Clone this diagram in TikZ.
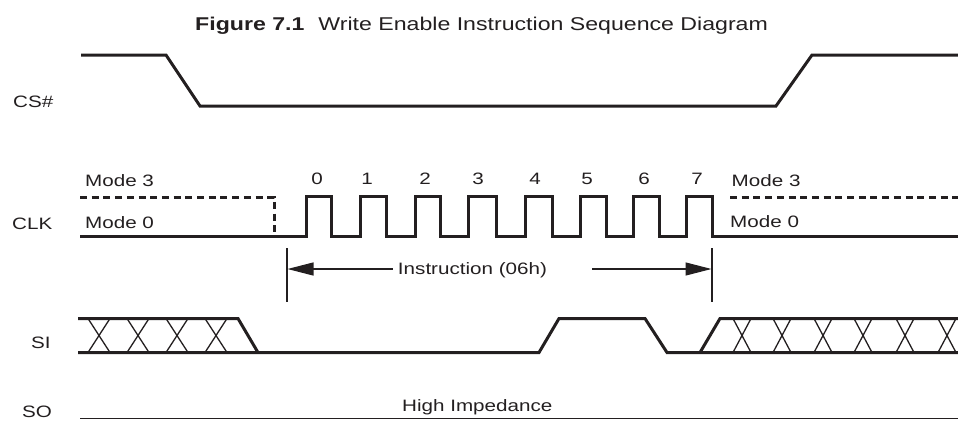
\documentclass[tikz,border=0pt]{standalone}
\usepackage{fontspec}
\setmainfont{Liberation Sans}[FakeStretch=1.25]
\usetikzlibrary{arrows.meta}
\definecolor{ink}{RGB}{35,31,32}
\begin{document}
\begin{tikzpicture}[x=1pt,y=-1pt,
  sig/.style={line width=3pt,line join=miter,draw=ink},
  dsig/.style={line width=3pt,draw=ink,dash pattern=on 7pt off 4.7pt},
  thin/.style={line width=1.3pt,draw=ink},
  hair/.style={line width=1.2pt,draw=ink},
  arr/.style={hair,-{Triangle[length=26pt,width=13pt]}},
  lbl/.style={inner sep=0pt,text=ink,font=\fontsize{16.5}{19}\selectfont},
  ttl/.style={inner sep=0pt,text=ink,font=\fontsize{18.5}{22}\selectfont}]
\useasboundingbox (0,0) rectangle (958,421);
% title
\node[ttl,anchor=base west] (title) at (195,30) {\textbf{Figure 7.1}\hspace{14pt}Write Enable Instruction Sequence Diagram};
% signal labels
\node[lbl,anchor=base west] (cs) at (13,107) {CS\#};
\node[lbl,anchor=base west] (clk) at (12,229) {CLK};
\node[lbl,anchor=base west] (si) at (31,348) {SI};
\node[lbl,anchor=base west] (so) at (22,417.5) {SO};
% CS#
\draw[sig] (81,55) -- (166,55) -- (200,106) -- (776,106) -- (812,55) -- (958,55);
% CLK
\node[lbl,anchor=base west] (m3l) at (85,186.5) {Mode 3};
\node[lbl,anchor=base west] (m0l) at (85,228) {Mode 0};
\node[lbl,anchor=base west] (m3r) at (731.5,186.5) {Mode 3};
\node[lbl,anchor=base west] (m0r) at (730,227) {Mode 0};
\draw[dsig] (80,197) -- (274,197) -- (274,237);
\draw[dsig] (730,197) -- (958,197);
\draw[sig] (80,236.5) -- (306,236.5) -- (306,196.5) -- (331,196.5) -- (331,236.5)
  -- (360,236.5) -- (360,196.5) -- (386,196.5) -- (386,236.5)
  -- (415,236.5) -- (415,196.5) -- (440,196.5) -- (440,236.5)
  -- (468,236.5) -- (468,196.5) -- (496,196.5) -- (496,236.5)
  -- (525,236.5) -- (525,196.5) -- (552,196.5) -- (552,236.5)
  -- (580,236.5) -- (580,196.5) -- (606,196.5) -- (606,236.5)
  -- (633,236.5) -- (633,196.5) -- (659,196.5) -- (659,236.5)
  -- (686,236.5) -- (686,196.5) -- (712,196.5) -- (712,236.5) -- (958,236.5);
\foreach \d/\x in {0/317,1/367,2/425,3/478,4/535,5/587,6/644,7/697}
  \node[lbl,anchor=base] (d\d) at (\x,184.5) {\d};
% instruction span
\coordinate (lt1) at (287,248); \coordinate (lt2) at (287,302);
\coordinate (rt1) at (712,248); \coordinate (rt2) at (712,302);
\coordinate (la) at (287.5,269); \coordinate (ra) at (711.5,269);
\draw[hair] (lt1) -- (lt2);
\draw[hair] (rt1) -- (rt2);
\node[lbl,anchor=center] (instr) at (472.5,270) {Instruction (06h)};
\draw[arr] ([xshift=-5pt]instr.west |- la) -- (la);
\draw[arr] ([xshift=45pt]instr.east |- ra) -- (ra);
% SI
\draw[sig] (78,318.5) -- (238,318.5) -- (258,352.5);
\draw[sig] (78,352.5) -- (539,352.5) -- (559,318.5) -- (645,318.5) -- (667,352.5) -- (958,352.5);
\draw[sig] (700,352.5) -- (720,318.5) -- (958,318.5);
\foreach \c in {99,138,177,216}
  \draw[thin] (\c-11,318.5) -- (\c+11,352.5) (\c+11,318.5) -- (\c-11,352.5);
\foreach \c in {742,782,823,863,905,947}
  \draw[thin] (\c-9,318.5) -- (\c+9,352.5) (\c+9,318.5) -- (\c-9,352.5);
% SO
\draw[line width=1.5pt,draw=ink] (80,418.3) -- (958,418.3);
\node[lbl,anchor=base west] (hiz) at (402,411.7) {High Impedance};
\end{tikzpicture}
\end{document}
